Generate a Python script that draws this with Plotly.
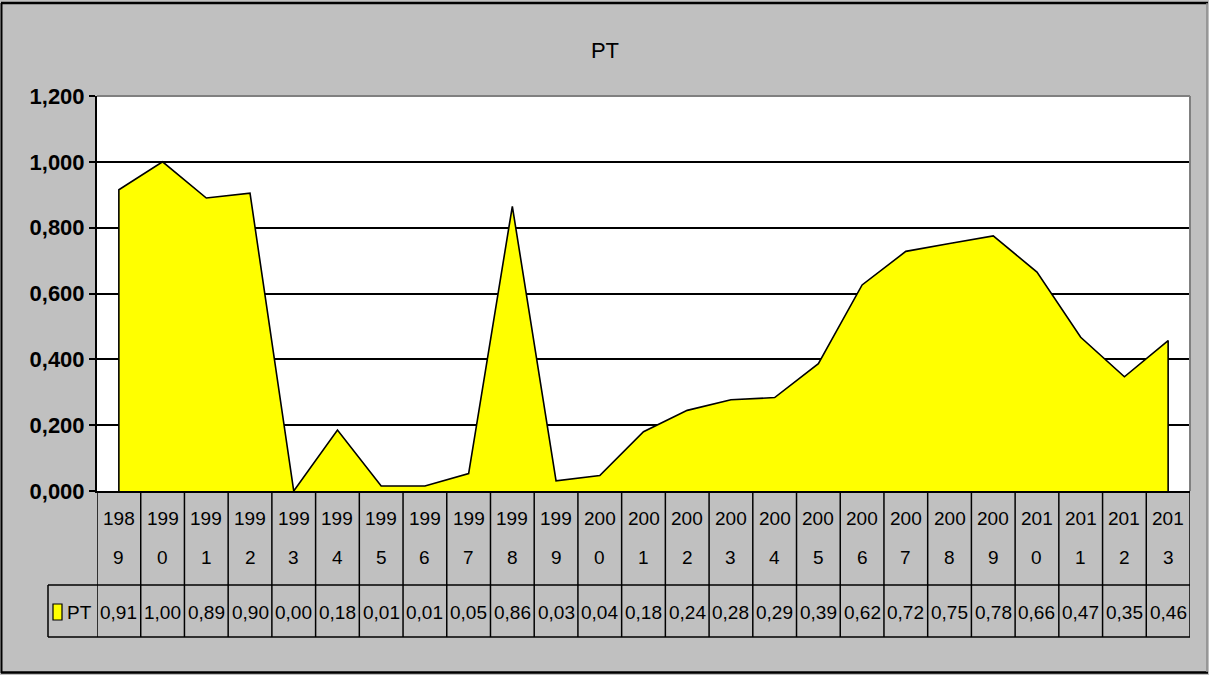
import plotly.graph_objects as go

years = ["1989", "1990", "1991", "1992", "1993", "1994", "1995", "1996", "1997", "1998",
         "1999", "2000", "2001", "2002", "2003", "2004", "2005", "2006", "2007", "2008",
         "2009", "2010", "2011", "2012", "2013"]
pt_values = [0.915, 1.000, 0.890, 0.905, 0.000, 0.185, 0.015, 0.015, 0.053, 0.865,
             0.031, 0.047, 0.180, 0.245, 0.277, 0.284, 0.387, 0.626, 0.728, 0.752,
             0.775, 0.665, 0.467, 0.347, 0.457]
pt_labels = ["0,91", "1,00", "0,89", "0,90", "0,00", "0,18", "0,01", "0,01", "0,05", "0,86",
             "0,03", "0,04", "0,18", "0,24", "0,28", "0,29", "0,39", "0,62", "0,72", "0,75",
             "0,78", "0,66", "0,47", "0,35", "0,46"]
series_name = "PT"
y_ticks = [0.0, 0.2, 0.4, 0.6, 0.8, 1.0, 1.2]

W, H = 1209, 675
L, R, T, B = 97, 1190, 96, 491
PW, PH = R - L, B - T


def fx(px):
    return (px - L) / PW


def fy(py):
    return (B - py) / PH


FONT = "Liberation Sans Narrow, Arial Narrow, Liberation Sans, Arial, sans-serif"
n = len(years)
xs = list(range(n))

fig = go.Figure()
fig.add_trace(go.Scatter(
    x=[xs[0]] + xs + [xs[-1]],
    y=[0] + pt_values + [0],
    mode="lines",
    fill="toself",
    fillcolor="#FFFF00",
    line=dict(color="black", width=1.6),
    name=series_name,
    showlegend=False,
    hoverinfo="skip",
))

shapes = []
annotations = []

# plot area border (gray top/right)
shapes.append(dict(type="line", xref="paper", yref="paper", x0=0, x1=1, y0=1, y1=1,
                   line=dict(color="#808080", width=2)))
shapes.append(dict(type="line", xref="paper", yref="paper", x0=1, x1=1, y0=0, y1=1,
                   line=dict(color="#808080", width=2)))

# outer chart border
shapes.append(dict(type="line", xref="paper", yref="paper", x0=fx(1.5), x1=fx(1.5),
                   y0=fy(3), y1=fy(673), line=dict(color="black", width=2)))
shapes.append(dict(type="line", xref="paper", yref="paper", x0=fx(1), x1=fx(1208),
                   y0=fy(3), y1=fy(3), line=dict(color="black", width=2.5)))
shapes.append(dict(type="line", xref="paper", yref="paper", x0=fx(1), x1=fx(1208),
                   y0=fy(672.5), y1=fy(672.5), line=dict(color="black", width=2.5)))
shapes.append(dict(type="line", xref="paper", yref="paper", x0=fx(1207), x1=fx(1207),
                   y0=fy(3), y1=fy(672), line=dict(color="#8a8a8a", width=1.5)))

# data table
row1_top, row1_bot, row2_bot = 491, 585, 637
legend_left = 48
for i in range(n + 1):
    xb = i - 0.5
    shapes.append(dict(type="line", xref="x", yref="paper", x0=xb, x1=xb,
                       y0=fy(row1_top), y1=fy(row2_bot), line=dict(color="black", width=1.5)))
shapes.append(dict(type="line", xref="paper", yref="paper", x0=fx(legend_left), x1=fx(legend_left),
                   y0=fy(row1_bot), y1=fy(row2_bot), line=dict(color="black", width=1.5)))
for yy in (row1_bot, row2_bot):
    shapes.append(dict(type="line", xref="paper", yref="paper", x0=fx(legend_left), x1=1,
                       y0=fy(yy), y1=fy(yy), line=dict(color="black", width=1.5)))
# legend key
shapes.append(dict(type="rect", xref="paper", yref="paper",
                   x0=fx(53), x1=fx(62), y0=fy(604), y1=fy(620),
                   fillcolor="#FFFF00", line=dict(color="black", width=1.2)))

tfont = dict(family=FONT, size=19, color="black")
for i, yr in enumerate(years):
    annotations.append(dict(x=i, y=fy(518), xref="x", yref="paper", text=yr[:3],
                            showarrow=False, font=tfont, xanchor="center", yanchor="middle"))
    annotations.append(dict(x=i, y=fy(557), xref="x", yref="paper", text=yr[3:],
                            showarrow=False, font=tfont, xanchor="center", yanchor="middle"))
    annotations.append(dict(x=i, y=fy(612), xref="x", yref="paper", text=pt_labels[i],
                            showarrow=False, font=tfont, xanchor="center", yanchor="middle"))
annotations.append(dict(x=fx(65), y=fy(612), xref="paper", yref="paper", text=series_name,
                        showarrow=False, font=tfont, xanchor="left", yanchor="middle"))

fig.update_layout(
    width=W, height=H,
    autosize=False,
    margin=dict(l=L, r=W - R, t=T, b=H - B, pad=0),
    paper_bgcolor="#C0C0C0",
    plot_bgcolor="white",
    separators=",.",
    title=dict(text="PT", x=fx(605), xref="paper", xanchor="center",
               y=1 - 50 / H, yanchor="middle",
               font=dict(family=FONT, size=22, color="black")),
    showlegend=False,
    shapes=shapes,
    annotations=annotations,
    xaxis=dict(range=[-0.5, n - 0.5], showgrid=False, zeroline=False,
               showticklabels=False, ticks="", showline=True, linecolor="black", linewidth=2,
               fixedrange=True),
    yaxis=dict(range=[0, 1.2], tickvals=y_ticks, tickformat=".3f",
               showgrid=True, gridcolor="black", gridwidth=1.6, zeroline=False,
               showline=True, linecolor="black", linewidth=2,
               ticks="outside", ticklen=6, tickcolor="black", tickwidth=2,
               tickfont=dict(family=FONT, size=22, color="black", weight="bold"),
               fixedrange=True),
)

fig.write_html(
    "out.html",
    config={"displayModeBar": False},
    post_script="document.body.style.margin='0';document.body.style.padding='0';",
)
